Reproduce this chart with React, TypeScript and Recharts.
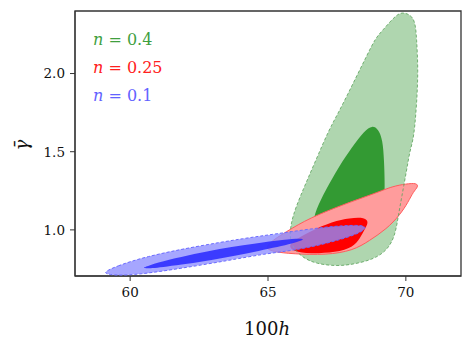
import React from 'react';
import {
  ScatterChart,
  Scatter,
  XAxis,
  YAxis,
  ReferenceArea,
  Customized,
} from 'recharts';

// contour outlines, as [100h, gamma-bar] pairs
const greenOuter: [number, number][] = [
  [69.95, 2.392], [70.33, 2.36], [70.39, 2.227], [70.45, 2.013], [70.39, 1.799],
  [70.29, 1.586], [70.15, 1.511], [70.03, 1.383], [69.85, 1.211], [69.72, 1.083],
  [69.6, 0.955], [69.3, 0.865], [68.8, 0.81], [68.08, 0.779], [67.48, 0.768],
  [66.75, 0.783], [66.25, 0.822], [65.88, 0.891], [65.79, 0.955], [65.83, 1.041],
  [66.01, 1.147], [66.37, 1.297], [66.79, 1.468], [67.21, 1.639], [67.51, 1.735],
  [67.88, 1.863], [68.24, 1.992], [68.6, 2.12], [68.9, 2.227], [69.14, 2.272],
  [69.68, 2.384],
];
const greenInner: [number, number][] = [
  [68.78, 1.668], [69.0, 1.645], [69.16, 1.575], [69.21, 1.447], [69.24, 1.276],
  [69.21, 1.158], [68.68, 1.03], [67.23, 0.985], [66.6, 1.03], [66.73, 1.126],
  [67.09, 1.254], [67.57, 1.404], [68.06, 1.532], [68.5, 1.635],
];
const redOuter: [number, number][] = [
  [64.8, 0.891], [65.67, 0.99], [66.51, 1.076], [67.71, 1.161], [68.92, 1.236],
  [69.52, 1.279], [70.01, 1.294], [70.4, 1.3], [70.45, 1.276], [70.27, 1.244],
  [70.09, 1.179], [69.78, 1.094], [69.3, 1.006], [68.68, 0.931], [68.08, 0.867],
  [67.11, 0.839], [65.91, 0.846], [65.16, 0.86],
];
const redInner: [number, number][] = [
  [65.67, 0.908], [66.51, 0.99], [67.35, 1.054], [67.96, 1.076], [68.52, 1.08],
  [68.65, 1.049], [68.52, 1.009], [68.34, 0.945], [68.08, 0.888], [67.48, 0.856],
  [66.51, 0.846], [65.91, 0.861],
];
const blueOuter: [number, number][] = [
  [59.07, 0.731], [59.46, 0.765], [60.54, 0.829], [62.35, 0.893], [64.16, 0.947],
  [65.49, 0.979], [67.11, 1.021], [68.32, 1.033], [68.61, 1.019], [68.32, 0.975],
  [67.11, 0.911], [65.91, 0.868], [64.88, 0.847], [63.56, 0.804], [61.75, 0.751],
  [60.3, 0.714], [59.46, 0.708], [59.13, 0.719],
];
const blueInner: [number, number][] = [
  [60.4, 0.763], [62.35, 0.851], [64.16, 0.904], [65.61, 0.94], [66.48, 0.948],
  [65.97, 0.915], [64.76, 0.868], [62.95, 0.804], [61.15, 0.761], [60.54, 0.751],
];

const xTicks = [60, 65, 70];
const yTicks = [1.0, 1.5, 2.0];
const legendLabels = ['0.4', '0.25', '0.1'];
const legendColors = ['#3f9f3f', '#ff2020', '#6262ff'];

const toPoints = (poly: [number, number][]) => poly.map(([x, y]) => ({ x, y }));
const NoDot = () => <g />;
const serif = 'DejaVu Serif';

function Labels() {
  return (
    <g fontFamily={serif}>
      {legendLabels.map((v, i) => (
        <text key={v} x={93} y={45 + i * 28} fontSize={16} fill={legendColors[i]}>
          <tspan fontStyle="italic">n</tspan>
          <tspan> = {v}</tspan>
        </text>
      ))}
      <text x={267} y={335} fontSize={18} textAnchor="middle" fill="#111">
        100<tspan fontStyle="italic">h</tspan>
      </text>
      <text
        x={28}
        y={145}
        fontSize={18}
        fontStyle="italic"
        textAnchor="middle"
        fill="#111"
        transform="rotate(-90, 28, 145)"
      >
        {'\u03B3\u0304'}
      </text>
    </g>
  );
}

export default function App() {
  const tick = { fontFamily: serif, fontSize: 13.5, fill: '#111' };
  const curve = 'basisClosed';
  return (
    <div style={{ position: 'absolute', left: 0, top: 0 }}>
      <ScatterChart width={473} height={352} margin={{ top: 11, right: 12, left: 0, bottom: 0 }}>
        <XAxis
          type="number"
          dataKey="x"
          domain={[58, 72]}
          ticks={xTicks}
          height={76}
          tickSize={5}
          tickMargin={6}
          tick={tick}
          stroke="#333"
          allowDataOverflow
        />
        <YAxis
          type="number"
          dataKey="y"
          domain={[0.705, 2.4]}
          ticks={yTicks}
          width={75}
          tickSize={5}
          tickMargin={5}
          tick={tick}
          tickFormatter={(v: number) => v.toFixed(1)}
          stroke="#333"
          allowDataOverflow
        />
        <Scatter
          data={toPoints(greenOuter)}
          shape={NoDot}
          line={{ fill: '#afd6af', stroke: 'none' }}
          lineJointType={curve}
          isAnimationActive={false}
        />
        <Scatter
          data={toPoints(greenInner)}
          shape={NoDot}
          line={{ fill: '#339a33', stroke: 'none' }}
          lineJointType={curve}
          isAnimationActive={false}
        />
        <Scatter
          data={toPoints(redOuter)}
          shape={NoDot}
          line={{ fill: '#ff9c9c', stroke: '#ff5c5c', strokeWidth: 1 }}
          lineJointType={curve}
          isAnimationActive={false}
        />
        <Scatter
          data={toPoints(redInner)}
          shape={NoDot}
          line={{ fill: '#ff0000', stroke: 'none' }}
          lineJointType={curve}
          isAnimationActive={false}
        />
        <Scatter
          data={toPoints(greenOuter)}
          shape={NoDot}
          line={{ fill: 'none', stroke: '#5fa55f', strokeOpacity: 0.85, strokeWidth: 1, strokeDasharray: '3 2' }}
          lineJointType={curve}
          isAnimationActive={false}
        />
        <Scatter
          data={toPoints(blueOuter)}
          shape={NoDot}
          line={{ fill: 'rgb(141,141,255)', fillOpacity: 0.78, stroke: '#6b6bff', strokeWidth: 1, strokeDasharray: '3 2' }}
          lineJointType={curve}
          isAnimationActive={false}
        />
        <Scatter
          data={toPoints(blueInner)}
          shape={NoDot}
          line={{ fill: 'rgb(40,40,255)', fillOpacity: 0.85, stroke: 'none' }}
          lineJointType={curve}
          isAnimationActive={false}
        />
        <ReferenceArea x1={58} x2={72} y1={0.705} y2={2.4} fill="none" stroke="#333" strokeWidth={1.3} />
        <Customized component={<Labels />} />
      </ScatterChart>
    </div>
  );
}
